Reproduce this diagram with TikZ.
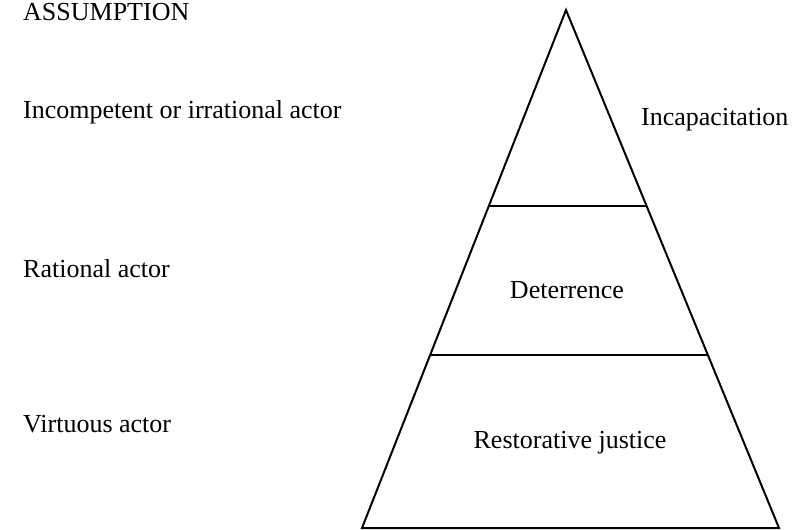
\documentclass[tikz,border=0pt]{standalone}
\usepackage{fontspec}
\setmainfont{Liberation Serif}
\usetikzlibrary{calc}
\begin{document}
\begin{tikzpicture}[x=1pt,y=-1pt,
  lbl/.style={inner sep=0pt,font=\fontsize{26}{31}\selectfont},
  edge/.style={line width=2pt,line join=miter}]
\useasboundingbox (0,0) rectangle (798,530);
% triangle corners
\coordinate (apex) at (566,10);
\coordinate (bl) at (362,528);
\coordinate (br) at (779,528);
\coordinate (l1) at ($(apex)!0.3784!(bl)$);
\coordinate (r1) at ($(apex)!0.3784!(br)$);
\coordinate (l2) at ($(apex)!0.666!(bl)$);
\coordinate (r2) at ($(apex)!0.666!(br)$);
\draw[edge] (apex) -- (bl) -- (br) -- cycle;
\draw[edge] (l1) -- (r1);
\draw[edge] (l2) -- (r2);
% labels
\node[lbl,anchor=base west,text height=17.5pt] (assump) at (23,20) {ASSUMPTION};
\node[lbl,anchor=base west] (incomp) at (23,118) {Incompetent or irrational actor};
\node[lbl,anchor=base west] (rational) at (23,277) {Rational actor};
\node[lbl,anchor=base west] (virtuous) at (23,432) {Virtuous actor};
\node[lbl,anchor=base west] (incap) at (641,125) {Incapacitation};
\node[lbl,anchor=base] (deter) at (567,298) {Deterrence};
\node[lbl,anchor=base] (restor) at (570,448) {Restorative justice};
\end{tikzpicture}
\end{document}
